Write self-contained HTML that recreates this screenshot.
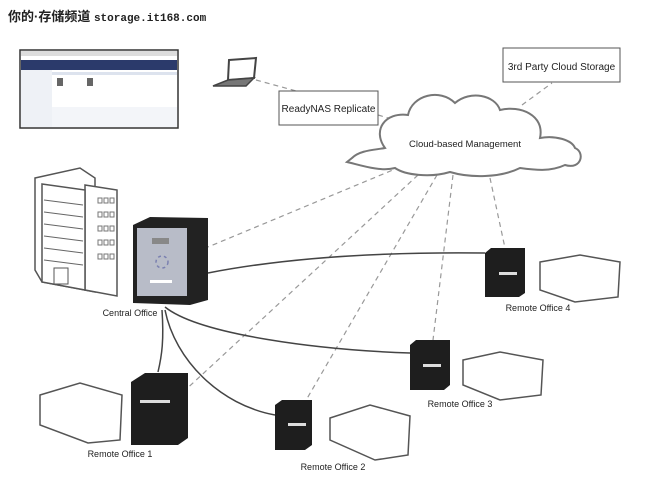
<!DOCTYPE html>
<html><head><meta charset="utf-8"><style>
body{margin:0;background:#fff;width:670px;height:503px;overflow:hidden}
svg{display:block}
text{font-family:"Liberation Sans","Noto Sans CJK SC",sans-serif;}
</style></head><body>
<svg width="670" height="503" viewBox="0 0 670 503" xmlns="http://www.w3.org/2000/svg">
<text x="8" y="21" font-size="13" font-weight="bold" fill="#222">你的·存储频道 <tspan font-family="Liberation Mono,monospace" font-size="11">storage.it168.com</tspan></text>

<!-- screenshot -->
<rect x="20" y="50" width="158" height="78" fill="#fff" stroke="#333" stroke-width="1.5"/>
<rect x="21" y="51" width="156" height="5" fill="#ddd"/>
<rect x="21" y="60" width="156" height="10" fill="#2b3a6b"/>
<rect x="21" y="70" width="31" height="57" fill="#eef1f6"/>
<rect x="52" y="72" width="125" height="3" fill="#dde3ee"/>
<rect x="57" y="78" width="6" height="8" fill="#666"/><rect x="87" y="78" width="6" height="8" fill="#666"/>
<rect x="57" y="112" width="6" height="8" fill="#666"/>
<rect x="52" y="107" width="125" height="20" fill="#f3f5f9"/>

<!-- laptop -->
<path d="M229 60 L256 58 L254 78 L228 80 Z" fill="#fff" stroke="#444" stroke-width="2"/>
<path d="M228 80 L254 78 L246 86 L213 86 Z" fill="#777" stroke="#444" stroke-width="1.5"/>

<!-- dashed lines -->
<g stroke="#999" stroke-width="1.2" stroke-dasharray="5,4" fill="none">
<line x1="256" y1="80" x2="300" y2="92"/>
<line x1="378" y1="115" x2="405" y2="123"/>
<line x1="522" y1="105" x2="552" y2="83"/>
<line x1="400" y1="167" x2="208" y2="247"/>
<line x1="418" y1="175" x2="180" y2="395"/>
<line x1="437" y1="175" x2="305" y2="402"/>
<line x1="453" y1="175" x2="433" y2="340"/>
<line x1="490" y1="178" x2="505" y2="248"/>
</g>

<!-- boxes -->
<rect x="279" y="91" width="99" height="34" fill="#fff" stroke="#555" stroke-width="1"/>
<text x="328.5" y="112" font-size="10" text-anchor="middle" fill="#222">ReadyNAS Replicate</text>
<rect x="503" y="48" width="117" height="34" fill="#fff" stroke="#555" stroke-width="1"/>
<text x="561.5" y="70" font-size="10" text-anchor="middle" fill="#222">3rd Party Cloud Storage</text>

<!-- cloud -->
<path d="M352 158 C360 150 375 150 385 148 C372 130 385 112 408 115 C412 95 440 88 455 103 C470 90 495 95 500 110 C520 105 545 115 540 138 C555 135 572 140 575 148 C585 152 582 170 565 165 C550 172 535 170 520 168 C500 178 470 178 450 172 C430 178 405 175 395 168 C380 172 360 165 347 162 Z" fill="#fff" stroke="#777" stroke-width="2"/>
<text x="465" y="147" font-size="9.5" text-anchor="middle" fill="#222">Cloud-based Management</text>

<!-- solid lines -->
<g stroke="#444" stroke-width="1.5" fill="none">
<path d="M208 273 C300 255 400 252 485 253"/>
<path d="M165 307 C200 335 320 350 410 353"/>
<path d="M165 310 C175 360 220 405 275 415"/>
<path d="M162 310 C164 340 162 355 158 372"/>
</g>

<!-- central building -->
<g fill="#fff" stroke="#555" stroke-width="1.5">
<path d="M35 178 L80 168 L95 178 L95 292 L42 282 L35 270 Z"/>
<path d="M85 185 L117 190 L117 296 L85 290 Z"/>
<path d="M42 184 L85 190 L85 290 L42 282 Z"/>
</g>
<g stroke="#666" stroke-width="1">
<line x1="44" y1="200" x2="83" y2="205"/><line x1="44" y1="212" x2="83" y2="217"/><line x1="44" y1="224" x2="83" y2="229"/><line x1="44" y1="236" x2="83" y2="241"/><line x1="44" y1="248" x2="83" y2="253"/><line x1="44" y1="260" x2="83" y2="265"/>
</g>
<g fill="none" stroke="#777" stroke-width="1">
<rect x="98" y="198" width="4" height="5"/><rect x="104" y="198" width="4" height="5"/><rect x="110" y="198" width="4" height="5"/>
<rect x="98" y="212" width="4" height="5"/><rect x="104" y="212" width="4" height="5"/><rect x="110" y="212" width="4" height="5"/>
<rect x="98" y="226" width="4" height="5"/><rect x="104" y="226" width="4" height="5"/><rect x="110" y="226" width="4" height="5"/>
<rect x="98" y="240" width="4" height="5"/><rect x="104" y="240" width="4" height="5"/><rect x="110" y="240" width="4" height="5"/>
<rect x="98" y="254" width="4" height="5"/><rect x="104" y="254" width="4" height="5"/><rect x="110" y="254" width="4" height="5"/>
</g>
<rect x="54" y="268" width="14" height="16" fill="#fff" stroke="#555"/>

<!-- central NAS -->
<path d="M133 225 L150 217 L208 218 L208 300 L190 305 L133 303 Z" fill="#222"/>
<rect x="137" y="228" width="50" height="68" fill="#b8bcc8"/>
<rect x="152" y="238" width="17" height="6" fill="#888"/>
<circle cx="162" cy="262" r="6" fill="none" stroke="#7a80b0" stroke-width="1.5" stroke-dasharray="3,3"/>
<rect x="150" y="280" width="22" height="3" fill="#fff"/>
<text x="130" y="316" font-size="9" text-anchor="middle" fill="#222">Central Office</text>

<!-- RO1 -->
<path d="M40 395 L80 383 L122 395 L120 440 L88 443 L40 425 Z" fill="#fff" stroke="#555" stroke-width="1.5"/>
<path d="M131 382 L145 373 L188 373 L188 438 L178 445 L131 445 Z" fill="#1e1e1e"/>
<rect x="140" y="400" width="30" height="3" fill="#ddd"/>
<text x="120" y="457" font-size="9" text-anchor="middle" fill="#222">Remote Office 1</text>

<!-- RO2 -->
<path d="M275 405 L282 400 L312 400 L312 445 L305 450 L275 450 Z" fill="#1e1e1e"/>
<rect x="288" y="423" width="18" height="3" fill="#ddd"/>
<path d="M330 418 L370 405 L410 416 L408 455 L375 460 L330 440 Z" fill="#fff" stroke="#555" stroke-width="1.5"/>
<text x="333" y="470" font-size="9" text-anchor="middle" fill="#222">Remote Office 2</text>

<!-- RO3 -->
<path d="M410 345 L416 340 L450 340 L450 385 L444 390 L410 390 Z" fill="#1e1e1e"/>
<rect x="423" y="364" width="18" height="3" fill="#ddd"/>
<path d="M463 360 L500 352 L543 360 L541 395 L500 400 L463 385 Z" fill="#fff" stroke="#555" stroke-width="1.5"/>
<text x="460" y="407" font-size="9" text-anchor="middle" fill="#222">Remote Office 3</text>

<!-- RO4 -->
<path d="M485 253 L491 248 L525 248 L525 293 L519 297 L485 297 Z" fill="#1e1e1e"/>
<rect x="499" y="272" width="18" height="3" fill="#ddd"/>
<path d="M540 262 L580 255 L620 262 L618 297 L575 302 L540 290 Z" fill="#fff" stroke="#555" stroke-width="1.5"/>
<text x="538" y="311" font-size="9" text-anchor="middle" fill="#222">Remote Office 4</text>
</svg>
</body></html>
